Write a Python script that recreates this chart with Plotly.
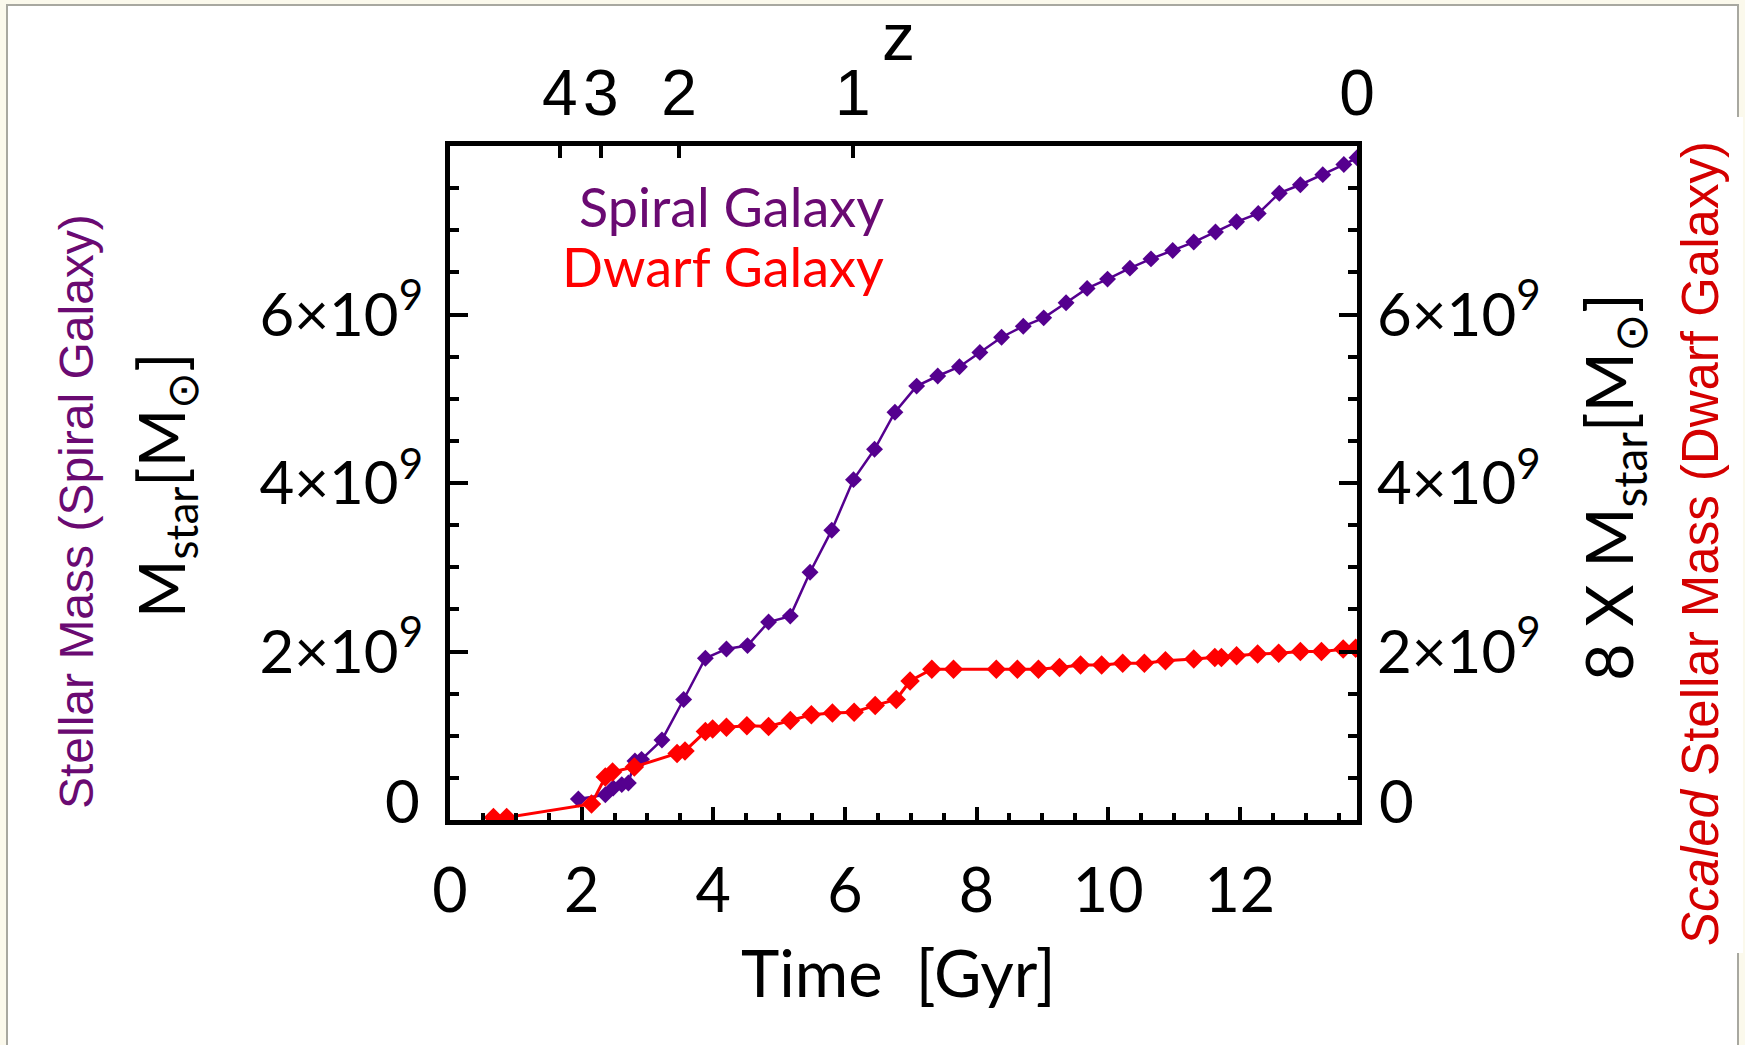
import plotly.graph_objects as go

# Cosmic time (Gyr) and stellar mass of the spiral galaxy
spiral_time = [1.95, 2.36, 2.48, 2.61, 2.71, 2.81, 2.91, 3.22, 3.55, 3.88, 4.20, 4.52,
               4.84, 5.17, 5.47, 5.80, 6.13, 6.45, 6.76, 7.09, 7.41, 7.74, 8.05, 8.38,
               8.71, 9.02, 9.36, 9.68, 9.99, 10.33, 10.65, 10.98, 11.30, 11.63, 11.95,
               12.28, 12.60, 12.92, 13.26, 13.58, 13.78]
spiral_mass = [0.25, 0.30, 0.38, 0.42, 0.44, 0.70, 0.72, 0.95, 1.43, 1.92, 2.03, 2.07,
               2.35, 2.42, 2.94, 3.44, 4.04, 4.40, 4.84, 5.15, 5.27, 5.38, 5.55, 5.73,
               5.86, 5.96, 6.14, 6.31, 6.42, 6.55, 6.66, 6.76, 6.86, 6.98, 7.10,
               7.20, 7.44, 7.54, 7.66, 7.78, 7.86]  # 1e9 Msun

# Cosmic time (Gyr) and 8x stellar mass of the dwarf galaxy
dwarf_time = [0.66, 0.86, 2.15, 2.36, 2.47, 2.80, 3.45, 3.57, 3.88, 3.99, 4.20, 4.51,
              4.84, 5.17, 5.49, 5.81, 6.14, 6.46, 6.78, 6.99, 7.32, 7.65, 8.30, 8.62,
              8.94, 9.26, 9.58, 9.90, 10.22, 10.55, 10.87, 11.30, 11.62, 11.72, 11.95,
              12.27, 12.59, 12.92, 13.24, 13.57, 13.76]
dwarf_mass = [0.03, 0.03, 0.19, 0.51, 0.57, 0.63, 0.79, 0.82, 1.05, 1.08, 1.10, 1.12,
              1.11, 1.18, 1.25, 1.27, 1.28, 1.36, 1.43, 1.65, 1.79, 1.79, 1.79, 1.79,
              1.79, 1.81, 1.84, 1.84, 1.86, 1.86, 1.89, 1.91, 1.93, 1.93, 1.95,
              1.97, 1.98, 2.00, 2.00, 2.03, 2.04]  # 1e9 Msun (scaled)

# Redshift axis: tick positions in cosmic time and their labels
z_time = [1.67, 2.29, 3.48, 6.12, 13.779]
z_labels = ["4", "3", "2", "1", "0"]

time_ticks = [0, 2, 4, 6, 8, 10, 12]
mass_ticks = [2e9, 4e9, 6e9]
mass_labels = ["2\u00d710<sup>9</sup>", "4\u00d710<sup>9</sup>", "6\u00d710<sup>9</sup>"]

T_MAX = 13.78
M_MAX = 8e9

PURPLE = "#55008f"
PURPLE_TXT = "#6a0a72"
RED = "#ff0000"
RED_TXT = "#d40000"
MAIN_FONT = "Lato, 'Open Sans', sans-serif"
NARROW_FONT = "'Liberation Sans Narrow', 'Liberation Sans', sans-serif"

W, H = 1745, 1045
L, R, T, B = 450, 1357, 146, 820


def px(xp):
    return (xp - L) / (R - L)


def py(yp):
    return (B - yp) / (B - T)


fig = go.Figure()

fig.add_trace(go.Scatter(
    x=spiral_time, y=[m * 1e9 for m in spiral_mass], mode="lines+markers",
    line=dict(color=PURPLE, width=2.5),
    marker=dict(symbol="diamond", size=13, color=PURPLE),
    name="Spiral Galaxy", xaxis="x", yaxis="y",
))
fig.add_trace(go.Scatter(
    x=dwarf_time, y=[m * 1e9 for m in dwarf_mass], mode="lines+markers",
    line=dict(color=RED, width=3),
    marker=dict(symbol="diamond", size=15, color=RED),
    name="Dwarf Galaxy", xaxis="x", yaxis="y2",
))
# carrier for the redshift axis
fig.add_trace(go.Scatter(x=[T_MAX], y=[0], mode="markers", marker=dict(opacity=0),
                         xaxis="x2", yaxis="y", hoverinfo="skip", showlegend=False))

axis_common = dict(showgrid=False, zeroline=False, showline=True, linecolor="black",
                   linewidth=5, ticks="inside", tickcolor="black", tickwidth=4)
mass_minor = dict(dtick=0.5e9, tick0=0, ticks="inside", ticklen=9, tickwidth=4,
                  tickcolor="black")

fig.update_layout(
    width=W, height=H,
    margin=dict(l=L, r=W - R, t=T, b=H - B, pad=0),
    paper_bgcolor="#fbf9ec", plot_bgcolor="white",
    showlegend=False,
    xaxis=dict(range=[0, T_MAX], tickvals=time_ticks, ticklen=13,
               tickfont=dict(family=MAIN_FONT, size=61, color="black"),
               ticklabelstandoff=14,
               minor=dict(dtick=0.5, tick0=0, ticks="inside", ticklen=7, tickwidth=4,
                          tickcolor="black"),
               **axis_common),
    xaxis2=dict(range=[0, T_MAX], overlaying="x", side="top", anchor="y",
                tickvals=z_time, ticktext=z_labels, ticklen=12,
                tickfont=dict(family=NARROW_FONT, size=64, color="black"),
                ticklabelstandoff=0,
                **axis_common),
    yaxis=dict(range=[0, M_MAX], tickvals=mass_ticks, ticktext=mass_labels, ticklen=18,
               tickfont=dict(family=MAIN_FONT, size=60, color="black"),
               ticklabelstandoff=10,
               minor=mass_minor, **axis_common),
    yaxis2=dict(range=[0, M_MAX], overlaying="y", side="right", anchor="x",
                tickvals=mass_ticks, ticktext=mass_labels, ticklen=18,
                tickfont=dict(family=MAIN_FONT, size=60, color="black"),
                ticklabelstandoff=3,
                minor=mass_minor, **axis_common),
)

# page frame
fig.add_shape(type="rect", xref="paper", yref="paper", layer="below",
              x0=px(7), x1=px(1738), y0=py(1060), y1=py(5),
              fillcolor="white", line=dict(color="#a8a8a0", width=2))
fig.add_shape(type="rect", xref="paper", yref="paper", layer="below",
              x0=px(1734), x1=px(1743), y0=py(953), y1=py(117),
              fillcolor="white", line=dict(width=0))

ann = []


def text(x, y, s, size, color="black", family=MAIN_FONT, angle=0, xanchor="center",
         yanchor="middle"):
    ann.append(dict(x=px(x), y=py(y), xref="paper", yref="paper", text=s, showarrow=False,
                    textangle=angle, xanchor=xanchor, yanchor=yanchor,
                    font=dict(family=family, size=size, color=color)))


# zero labels of the mass axes sit slightly above the axis
ann.append(dict(x=0, y=0, xref="paper", yref="y", text="0", showarrow=False,
                xanchor="right", yanchor="middle", xshift=-28, yshift=20,
                font=dict(family=MAIN_FONT, size=60, color="black")))
ann.append(dict(x=1, y=0, xref="paper", yref="y", text="0", showarrow=False,
                xanchor="left", yanchor="middle", xshift=20, yshift=20,
                font=dict(family=MAIN_FONT, size=60, color="black")))

text(898, 972, "Time  [Gyr]", 65)
text(898, 37, "z", 66, family=NARROW_FONT)
text(165, 486, "M<sub>star</sub>[M<sub>\u2299</sub>]", 63, angle=-90)
text(76, 512, "Stellar Mass (Spiral Galaxy)", 48, color=PURPLE_TXT, family=NARROW_FONT, angle=-90)
text(1613, 487, "8 X M<sub>star</sub>[M<sub>\u2299</sub>]", 65, angle=-90)
text(1700, 544, "<i>Scaled</i> Stellar Mass (Dwarf Galaxy)", 51, color=RED_TXT,
     family=NARROW_FONT, angle=-90)
text(886, 207, "Spiral Galaxy", 54, color=PURPLE_TXT, xanchor="right")
text(886, 266, "Dwarf Galaxy", 54, color=RED, xanchor="right")

fig.update_layout(annotations=ann)

fig.write_html("out.html")
